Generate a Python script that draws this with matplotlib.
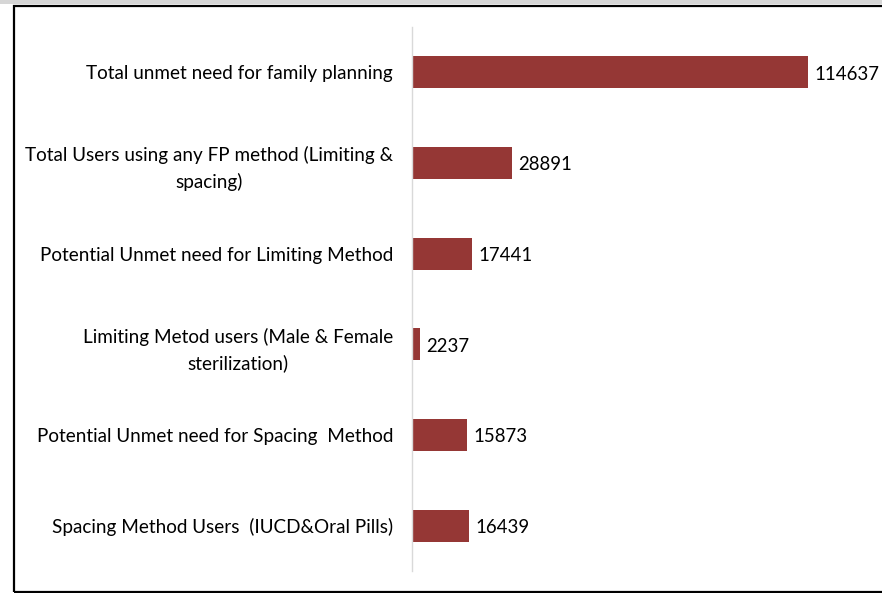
import matplotlib
matplotlib.use("Agg")
from matplotlib import pyplot as plt
from matplotlib.patches import Rectangle

categories = [
    "Total unmet need for family planning",
    "Total Users using any FP method (Limiting &\nspacing)",
    "Potential Unmet need for Limiting Method",
    "Limiting Metod users (Male & Female\nsterilization)",
    "Potential Unmet need for Spacing  Method",
    "Spacing Method Users  (IUCD&Oral Pills)",
]
values = [114637, 28891, 17441, 2237, 15873, 16439]

bar_color = "#953735"
W, H = 882, 593

plt.rcParams["font.family"] = ["Lato", "DejaVu Sans"]

fig = plt.figure(figsize=(W / 100, H / 100), dpi=100)
fig.patch.set_facecolor("white")

# grey strip at the top and the black frame around the chart area
fig.add_artist(Rectangle((0, 1 - 4 / H), 1, 4 / H, transform=fig.transFigure,
                         facecolor="#d6d6d6", edgecolor="none"))
fig.add_artist(Rectangle((14.5 / W, 1.5 / H), 1, (H - 7) / H, transform=fig.transFigure,
                         facecolor="none", edgecolor="black", linewidth=1.6))

ax = fig.add_axes([412 / W, (H - 571) / H, (W - 412) / W, 544 / H])
y = list(range(len(categories)))
ax.barh(y, values, height=0.35, color=bar_color)
ax.set_ylim(len(categories) - 0.5, -0.5)
ax.set_xlim(0, 136000)

ax.set_yticks(y)
ax.set_yticklabels(categories, fontsize=13.6, multialignment="center", linespacing=1.55)
ax.tick_params(axis="y", length=0, pad=13.5)
ax.tick_params(axis="x", bottom=False, labelbottom=False)

for s in ["top", "right", "bottom"]:
    ax.spines[s].set_visible(False)
ax.spines["left"].set_color("#d9d9d9")
ax.spines["left"].set_linewidth(1)

for yi, v in zip(y, values):
    ax.annotate(str(v), (v, yi), xytext=(4.5, -1.2), textcoords="offset points",
                va="center", ha="left", fontsize=13.4)

fig.savefig("out.png", dpi=100)
